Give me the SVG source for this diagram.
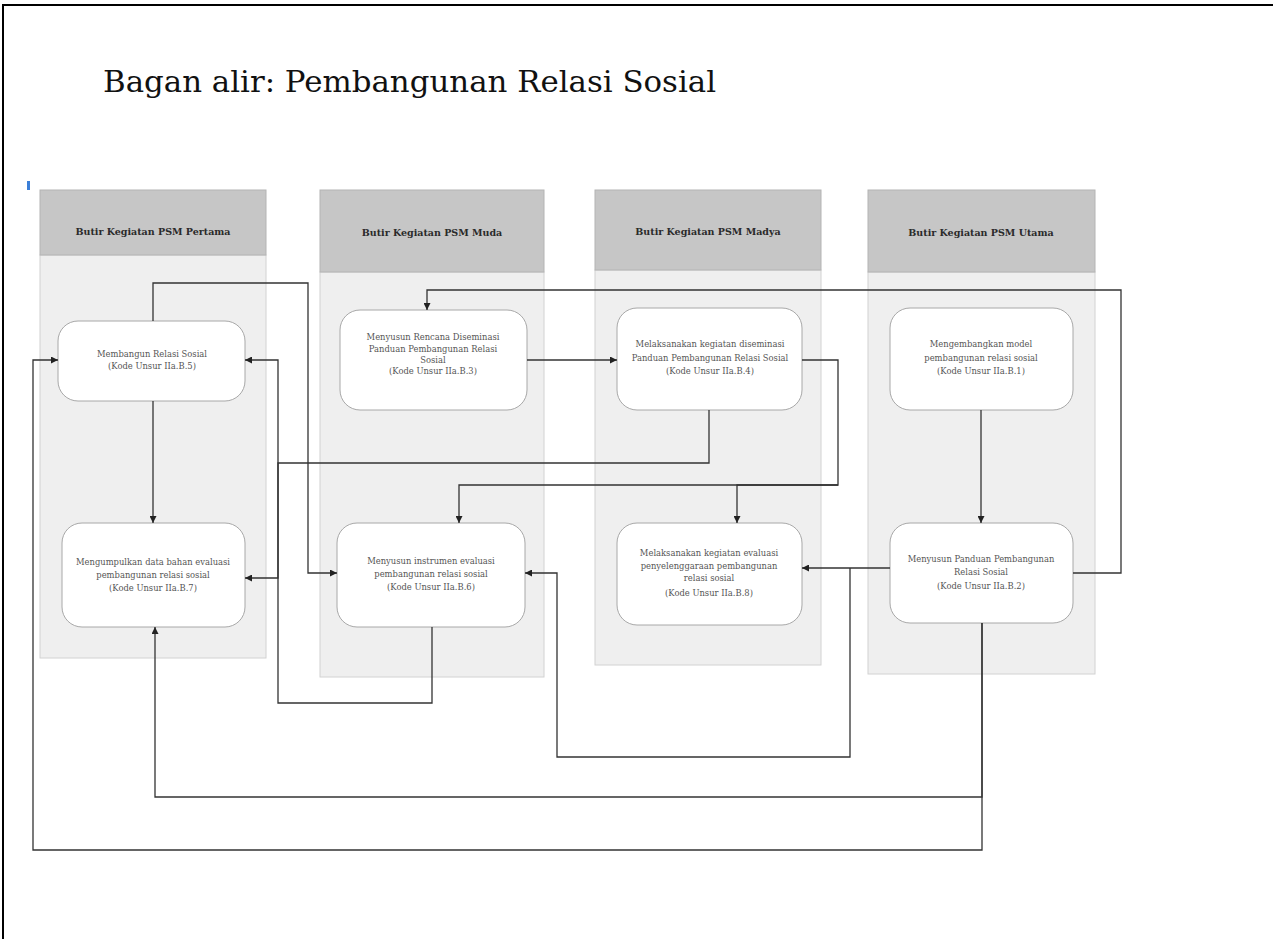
<svg xmlns="http://www.w3.org/2000/svg" width="1273" height="939" viewBox="0 0 1273 939">
  <style>
    .title { font-family: "DejaVu Serif", "Liberation Serif", serif; font-size: 29px; fill: #111; }
    .lane-head { fill: #c6c6c6; stroke: #b4b4b4; stroke-width: 1; }
    .lane-body { fill: #efefef; stroke: #d2d2d2; stroke-width: 1; }
    .head-text { font-family: "DejaVu Serif", "Liberation Serif", serif; font-size: 9.5px; font-weight: bold; fill: #2a2a2a; text-anchor: middle; }
    .node rect { fill: #ffffff; stroke: #a8a8a8; stroke-width: 1; }
    .node text { font-family: "DejaVu Serif", "Liberation Serif", serif; font-size: 8.4px; fill: #555; text-anchor: middle; }
    .edge { fill: none; stroke: #333; stroke-width: 1.3; }
  </style>
  <defs>
    <marker id="arrow" viewBox="0 0 10 10" refX="10" refY="5" markerWidth="7" markerHeight="7" markerUnits="userSpaceOnUse" orient="auto">
      <path d="M0,0 L10,5 L0,10 z" fill="#222"/>
    </marker>
  </defs>

  <!-- page frame -->
  <path d="M3,939 V5 H1273" fill="none" stroke="#000" stroke-width="2"/>

  <text class="title" x="103" y="92" textLength="613" lengthAdjust="spacingAndGlyphs">Bagan alir: Pembangunan Relasi Sosial</text>

  <!-- small cursor mark -->
  <rect x="27" y="181" width="3" height="9" fill="#3c7fd8"/>

  <!-- swimlanes -->
  <g id="lane-pertama">
    <rect class="lane-body" x="40" y="255" width="226" height="403"/>
    <rect class="lane-head" x="40" y="190" width="226" height="65"/>
    <text class="head-text" x="153" y="235">Butir Kegiatan PSM Pertama</text>
  </g>
  <g id="lane-muda">
    <rect class="lane-body" x="320" y="272" width="224" height="405"/>
    <rect class="lane-head" x="320" y="190" width="224" height="82"/>
    <text class="head-text" x="432" y="236">Butir Kegiatan PSM Muda</text>
  </g>
  <g id="lane-madya">
    <rect class="lane-body" x="595" y="270" width="226" height="395"/>
    <rect class="lane-head" x="595" y="190" width="226" height="80"/>
    <text class="head-text" x="708" y="235">Butir Kegiatan PSM Madya</text>
  </g>
  <g id="lane-utama">
    <rect class="lane-body" x="868" y="272" width="227" height="402"/>
    <rect class="lane-head" x="868" y="190" width="227" height="82"/>
    <text class="head-text" x="981" y="236">Butir Kegiatan PSM Utama</text>
  </g>

  <!-- activity nodes -->
  <g id="n-membangun" class="node">
    <rect x="58" y="321" width="187" height="80" rx="20"/>
    <text x="152" y="357">Membangun Relasi Sosial</text>
    <text x="152" y="369">(Kode Unsur IIa.B.5)</text>
  </g>
  <g id="n-rencana-diseminasi" class="node">
    <rect x="340" y="310" width="187" height="100" rx="20"/>
    <text x="433" y="340">Menyusun Rencana Diseminasi</text>
    <text x="433" y="352">Panduan Pembangunan Relasi</text>
    <text x="433" y="363">Sosial</text>
    <text x="433" y="374">(Kode Unsur IIa.B.3)</text>
  </g>
  <g id="n-diseminasi" class="node">
    <rect x="617" y="308" width="185" height="102" rx="20"/>
    <text x="710" y="347">Melaksanakan kegiatan diseminasi</text>
    <text x="710" y="361">Panduan Pembangunan Relasi Sosial</text>
    <text x="710" y="374">(Kode Unsur IIa.B.4)</text>
  </g>
  <g id="n-model" class="node">
    <rect x="890" y="308" width="183" height="102" rx="20"/>
    <text x="981" y="347">Mengembangkan model</text>
    <text x="981" y="361">pembangunan relasi sosial</text>
    <text x="981" y="374">(Kode Unsur IIa.B.1)</text>
  </g>
  <g id="n-data-evaluasi" class="node">
    <rect x="62" y="523" width="183" height="104" rx="20"/>
    <text x="153" y="565">Mengumpulkan data bahan evaluasi</text>
    <text x="153" y="578">pembangunan relasi sosial</text>
    <text x="153" y="591">(Kode Unsur IIa.B.7)</text>
  </g>
  <g id="n-instrumen" class="node">
    <rect x="337" y="523" width="188" height="104" rx="20"/>
    <text x="431" y="564">Menyusun instrumen evaluasi</text>
    <text x="431" y="577">pembangunan relasi sosial</text>
    <text x="431" y="590">(Kode Unsur IIa.B.6)</text>
  </g>
  <g id="n-evaluasi" class="node">
    <rect x="617" y="523" width="185" height="102" rx="20"/>
    <text x="709" y="556">Melaksanakan kegiatan evaluasi</text>
    <text x="709" y="569">penyelenggaraan pembangunan</text>
    <text x="709" y="581">relasi sosial</text>
    <text x="709" y="596">(Kode Unsur IIa.B.8)</text>
  </g>
  <g id="n-panduan" class="node">
    <rect x="890" y="523" width="183" height="100" rx="20"/>
    <text x="981" y="562">Menyusun Panduan Pembangunan</text>
    <text x="981" y="575">Relasi Sosial</text>
    <text x="981" y="589">(Kode Unsur IIa.B.2)</text>
  </g>

  <!-- connectors -->
  <g id="connectors">
    <path class="edge" marker-end="url(#arrow)" d="M153,321 V283 H308 V573 H337"/>
    <path class="edge" marker-end="url(#arrow)" d="M153,401 V523"/>
    <path class="edge" marker-end="url(#arrow)" d="M527,360 H617"/>
    <path class="edge" marker-end="url(#arrow)" d="M709,410 V463 H278 V578 H245"/>
    <path class="edge" marker-end="url(#arrow)" d="M432,627 V703 H278 V360 H245"/>
    <path class="edge" marker-end="url(#arrow)" d="M802,360 H838 V485 H459 V523"/>
    <path class="edge" marker-end="url(#arrow)" d="M838,485 H737 V523"/>
    <path class="edge" marker-end="url(#arrow)" d="M981,410 V523"/>
    <path class="edge" marker-end="url(#arrow)" d="M1073,573 H1121 V290 H427 V310"/>
    <path class="edge" marker-end="url(#arrow)" d="M890,568 H802"/>
    <path class="edge" marker-end="url(#arrow)" d="M850,568 V757 H557 V573 H525"/>
    <path class="edge" marker-end="url(#arrow)" d="M982,623 V797 H155 V627"/>
    <path class="edge" marker-end="url(#arrow)" d="M982,623 V850 H33 V360 H58"/>
  </g>
</svg>
